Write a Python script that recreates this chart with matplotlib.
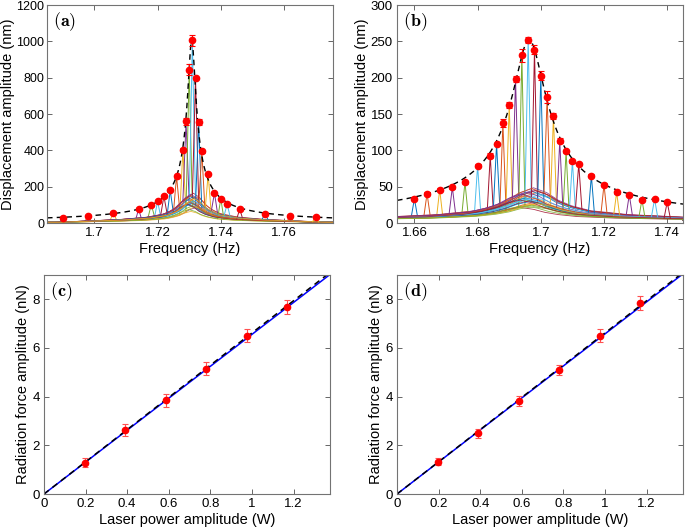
import numpy as np
import matplotlib
matplotlib.use('agg')
import matplotlib.pyplot as plt

plt.rcParams['font.family'] = ['Liberation Sans', 'DejaVu Sans']
plt.rcParams['mathtext.fontset'] = 'cm'

# MATLAB default colour order, used for the individual spectra
matlab_colors = ['#0072BD', '#D95319', '#EDB120', '#7E2F8E', '#77AC30', '#4DBEEE', '#A2142F']

# ---- panel (a): drive frequency sweep, sample 1
freq_a = [1.690, 1.698, 1.706, 1.714, 1.718, 1.720, 1.722, 1.724, 1.726, 1.728, 1.729, 1.730,
          1.731, 1.732, 1.733, 1.734, 1.736, 1.738, 1.740, 1.742, 1.746, 1.754, 1.762, 1.770]
amp_a = [27, 37, 55, 77, 101, 119, 147, 180, 257, 404, 560, 844,
         1005, 798, 556, 395, 270, 165, 134, 105, 77, 50, 40, 31]
err_a = [5, 5, 5, 5, 5, 5, 5, 6, 7, 9, 18, 30,
         32, 8, 18, 8, 6, 5, 5, 5, 5, 5, 5, 5]
hump_a = [95, 120, 150, 80, 130, 110, 160, 100, 140, 60, 125, 90,
          115, 145, 105, 135, 85, 155, 70, 120, 100, 140, 110, 130]
shift_a = [-0.3, 0.2, 0.0, 0.5, -0.4, 0.1, 0.3, -0.2, 0.6, 0.0, -0.5, 0.2,
           0.4, -0.1, 0.1, -0.3, 0.5, 0.0, -0.2, 0.3, -0.4, 0.2, -0.1, 0.4]
fit_a = {'f0': 1.7308, 'peak': 1005, 'Q': 680}

# ---- panel (b): drive frequency sweep, sample 2
freq_b = [1.660, 1.664, 1.668, 1.672, 1.676, 1.680, 1.684, 1.686, 1.688, 1.690, 1.692, 1.694, 1.696, 1.698,
          1.700, 1.702, 1.704, 1.706, 1.708, 1.710, 1.712, 1.716, 1.720, 1.724, 1.728, 1.732, 1.736, 1.740]
amp_b = [33.5, 40.4, 45.9, 49, 56, 79, 92.7, 108.7, 137.6, 162, 198, 230.7, 251.4, 238.5,
         202.7, 173.4, 146.8, 113.3, 98.6, 84.9, 81.2, 65.1, 52.8, 42.2, 39, 32.1, 33, 28.9]
err_b = [2, 2, 2, 2, 2, 2, 3, 2, 5.5, 4, 4.5, 9, 4, 6,
         6.5, 8, 4, 3, 2, 2, 2, 2, 2, 2, 2, 2, 2, 2]
hump_b = [30, 38, 22, 45, 28, 35, 18, 40, 25, 33, 42, 20, 37, 27,
          31, 44, 24, 36, 19, 29, 41, 26, 34, 23, 39, 21, 32, 28]
shift_b = [-0.4, 0.3, 0.0, 0.2, -0.2, 0.5, -0.5, 0.1, 0.3, -0.1, 0.2, -0.3, 0.4, 0.0,
           -0.2, 0.1, 0.5, -0.4, 0.2, -0.1, 0.3, 0.0, -0.3, 0.4, -0.2, 0.1, 0.2, -0.5]
fit_b = {'f0': 1.6963, 'peak': 252, 'Q': 165}

# relative shape of the broad free-oscillation bump seen in every spectrum
hump_u = [-15, -8, -5, -3, -2, -1.3, -0.7, 0, 0.7, 1.3, 2, 3, 5, 8, 15]
hump_shape = [0.0, 0.1, 0.18, 0.3, 0.45, 0.62, 0.85, 1.0, 0.85, 0.62, 0.45, 0.3, 0.18, 0.1, 0.0]

# ---- panels (c), (d): force vs laser power
power = [0.195, 0.39, 0.585, 0.78, 0.975, 1.17]
force_c = [1.29, 2.63, 3.85, 5.14, 6.51, 7.68]
ferr_c = [0.18, 0.25, 0.27, 0.27, 0.28, 0.30]
force_d = [1.33, 2.50, 3.83, 5.10, 6.50, 7.85]
ferr_d = [0.15, 0.18, 0.20, 0.22, 0.27, 0.28]
slope_c = {'fit': 6.56, 'model': 6.62}
slope_d = {'fit': 6.58, 'model': 6.62}


def style_axes(ax, label):
    ax.tick_params(direction='in', top=True, right=True, length=3.5, width=0.6,
                   labelsize=9.5, color='0.3', pad=3)
    for sp in ax.spines.values():
        sp.set_color('0.45')
        sp.set_linewidth(0.8)
    ax.text(0.022, 0.925, r'$\mathbf{(%s)}$' % label, transform=ax.transAxes,
            fontsize=13, va='center', ha='left')


def lorentz(f, p):
    f = np.asarray(f)
    f0, q = p['f0'], p['Q']
    return p['peak'] * (f0 ** 2 / q) / np.sqrt((f0 ** 2 - f ** 2) ** 2 + (f0 * f / q) ** 2)


def sweep_panel(ax, freq, amp, err, hump, shift, fit, hump_c, hump_w, base, xlim, ylim, yticks, xticks, xtl):
    for i, (f, a, h, s0) in enumerate(zip(freq, amp, hump, shift)):
        col = matlab_colors[i % 7]
        hx = [xlim[0]] + [hump_c + (u + s0) * hump_w for u in hump_u] + [xlim[1]]
        hy = [base] + [base + h * s for s in hump_shape] + [base]
        ax.plot(hx, hy, color=col, lw=0.6, alpha=0.85)
        sx = [f - 0.001, f, f + 0.001]
        sy = [np.interp(sx[0], hx, hy), a, np.interp(sx[2], hx, hy)]
        ax.plot(sx, sy, color=col, lw=0.7)
    fx = np.linspace(xlim[0], xlim[1], 600)
    ax.plot(fx, lorentz(fx, fit), '--', color='black', lw=1.0, dashes=(4, 3))
    ax.errorbar(freq, amp, yerr=err, fmt='o', color='red', ecolor='red', ms=4.5,
                elinewidth=0.8, capsize=2.5, capthick=0.8, zorder=5)
    ax.set_xlim(xlim)
    ax.set_ylim(ylim)
    ax.set_yticks(yticks)
    ax.set_xticks(xticks)
    ax.set_xticklabels(xtl)
    ax.set_xlabel('Frequency (Hz)', fontsize=10.5, labelpad=2)
    ax.set_ylabel('Displacement amplitude (nm)', fontsize=10.5, labelpad=1)


def force_panel(ax, force, ferr, slope):
    px = np.array([0, 1.375])
    ax.plot(px, slope['fit'] * px, color='#0000ff', lw=1.1)
    ax.plot(px, slope['model'] * px, '--', color='black', lw=1.1, dashes=(4, 3))
    ax.errorbar(power, force, yerr=ferr, fmt='o', color='red', ecolor='#ff5050', ms=4.5,
                elinewidth=0.8, capsize=2.5, capthick=0.8, zorder=5)
    ax.set_xlim(0, 1.375)
    ax.set_ylim(0, 9)
    ax.set_xticks([0, 0.2, 0.4, 0.6, 0.8, 1.0, 1.2])
    ax.set_xticklabels(['0', '0.2', '0.4', '0.6', '0.8', '1', '1.2'])
    ax.set_yticks([0, 2, 4, 6, 8])
    ax.set_xlabel('Laser power amplitude (W)', fontsize=10.5, labelpad=2)
    ax.set_ylabel('Radiation force amplitude (nN)', fontsize=10.5, labelpad=2)


fig = plt.figure(figsize=(6.85, 5.32), dpi=100)
ax_a = fig.add_axes([0.0686, 0.5808, 0.4175, 0.4098])
ax_b = fig.add_axes([0.5796, 0.5808, 0.4175, 0.4098])
ax_c = fig.add_axes([0.0642, 0.0714, 0.4175, 0.4117])
ax_d = fig.add_axes([0.5796, 0.0714, 0.4175, 0.4117])

sweep_panel(ax_a, freq_a, amp_a, err_a, hump_a, shift_a, fit_a, 1.7305, 0.0028, 4,
            (1.685, 1.7755), (0, 1200), range(0, 1201, 200),
            [1.70, 1.72, 1.74, 1.76], ['1.7', '1.72', '1.74', '1.76'])
sweep_panel(ax_b, freq_b, amp_b, err_b, hump_b, shift_b, fit_b, 1.6965, 0.006, 3.5,
            (1.6545, 1.745), (0, 300), range(0, 301, 50),
            [1.66, 1.68, 1.70, 1.72, 1.74], ['1.66', '1.68', '1.7', '1.72', '1.74'])
force_panel(ax_c, force_c, ferr_c, slope_c)
force_panel(ax_d, force_d, ferr_d, slope_d)

for ax, lab in zip([ax_a, ax_b, ax_c, ax_d], 'abcd'):
    style_axes(ax, lab)
ax_a.tick_params(axis='y', labelsize=9, pad=2)

fig.savefig('out.png', dpi=100)
